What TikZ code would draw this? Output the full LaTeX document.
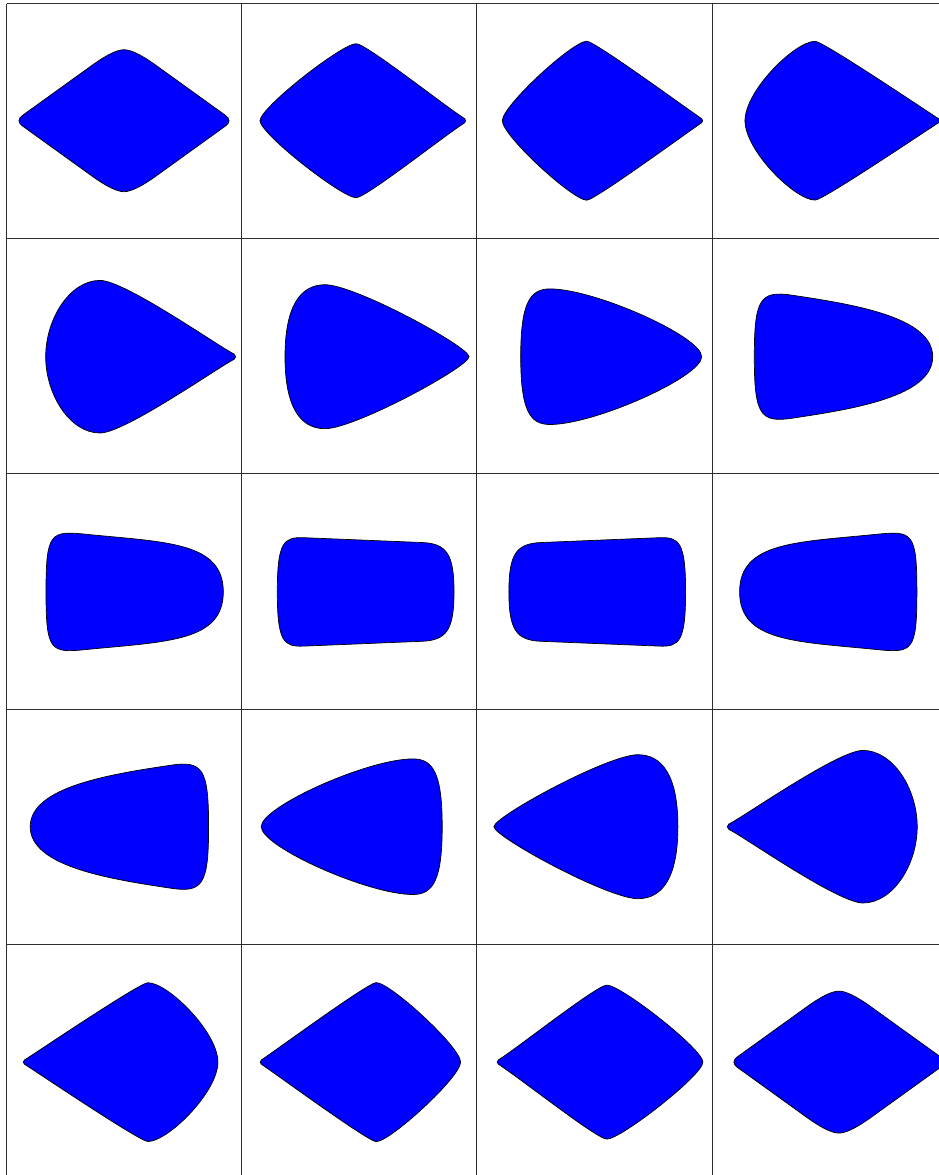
\documentclass[tikz,border=0pt]{standalone}
\definecolor{shapeblue}{RGB}{0,0,255}
\definecolor{gridgray}{RGB}{45,45,45}
\tikzset{
  blobfill/.style={fill=shapeblue},
  blobline/.style={draw=black, line width=0.7pt, line cap=round, line join=round},
  gridline/.style={draw=gridgray, line width=1.1pt},
}
% #1 x0, #2 centre y, #3 xscale, #4 xL, #5 xR, #6 rest of upper half path
\newcommand\blob[6]{%
  \begin{scope}[shift={(#1,#2)},xscale=#3]
    \begin{scope}[yscale=-1]
      \fill[blobfill] (#4,0) #6 -- ({#5-1.5},-0.9) -- ({#4+1.5},-0.9) -- cycle;
    \end{scope}
    \fill[blobfill] (#4,0) #6 -- ({#5-1.5},-0.9) -- ({#4+1.5},-0.9) -- cycle;
    \begin{scope}[yscale=-1]\draw[blobline] (#4,0) #6;\end{scope}
    \draw[blobline] (#4,0) #6;
  \end{scope}}
\newcommand\shpA{.. controls (12.5,2.4) and (14.1,3.9) .. (16,5.3) -- (85,55) .. controls (99.8,65.7) and (110.6,71) .. (117.5,71) .. controls (124.4,71) and (135.2,65.7) .. (150,55) -- (219,5.3) .. controls (220.9,3.9) and (222.5,2.4) .. (222.5,0)}
\newcommand\shpB{.. controls (18.3,13) and (100.3,77) .. (114.3,77) .. controls (124.3,77) and (199.4,17.36) .. (222.86,2.1) .. controls (223.57,1.64) and (224,0.85) .. (224,0)}
\newcommand\shpC{.. controls (25.4,15) and (95.8,79.5) .. (109.8,79.5) .. controls (117.8,79.5) and (208.1,13.25) .. (224.7,2.07) .. controls (225.39,1.61) and (225.8,0.83) .. (225.8,0)}
\newcommand\shpD{.. controls (32.9,30) and (82.9,79.4) .. (102.9,79.4) .. controls (110.9,79.4) and (209.5,12.9) .. (226.35,2.1) .. controls (227.06,1.64) and (227.5,0.85) .. (227.5,0)}
\newcommand\shpE{.. controls (39.2,38) and (63.5,76.3) .. (93.5,76.3) .. controls (118.5,76.3) and (213.9,9.07) .. (227.5,2.72) .. controls (228.56,2.23) and (229.2,1.17) .. (229.2,0)}
\newcommand\shpF{.. controls (43.3,50) and (58.3,72) .. (83.3,72) .. controls (113.3,72) and (227.3,10) .. (227.3,0)}
\newcommand\shpG{.. controls (43.8,54) and (53.1,67.8) .. (73.1,67.8) .. controls (118.1,67.8) and (224.8,20) .. (224.8,0)}
\newcommand\shpH{.. controls (42.2,58) and (48,66.3) .. (80,61.5) .. controls (140,52.5) and (220.6,40) .. (220.6,0)}
\newcommand\shpI{.. controls (39.5,60) and (44,61.2) .. (80,57.6) .. controls (160,49.6) and (216.8,50) .. (216.8,0)}
\newcommand\shpJ{.. controls (35.6,50) and (42,55.0) .. (62,54.2) .. controls (92,53.0) and (150,50.6) .. (180,49.4) .. controls (205,48.4) and (212.3,38) .. (212.3,0)}
\begin{document}
\begin{tikzpicture}[x=1pt,y=-1pt]
\useasboundingbox (0,0) rectangle (939,1175);
\fill[white] (0,0) rectangle (939,1175);
% grid
\foreach \gx in {6.5,241.7,476.9,712.1} \draw[gridline] (\gx,3.5) -- (\gx,1175);
\foreach \gy in {3.5,238.7,473.9,709.1,944.3} \draw[gridline] (6.5,\gy) -- (939,\gy);
% row 1
\blob{6.5}{120.7}{1}{12.5}{222.5}{\shpA}
\blob{241.7}{120.7}{1}{18.3}{224}{\shpB}
\blob{476.9}{120.7}{1}{25.4}{225.8}{\shpC}
\blob{712.1}{120.7}{1}{32.9}{227.5}{\shpD}
% row 2
\blob{6.5}{356.7}{1}{39.2}{229.2}{\shpE}
\blob{241.7}{356.7}{1}{43.3}{227.3}{\shpF}
\blob{476.9}{356.7}{1}{43.8}{224.8}{\shpG}
\blob{712.1}{356.7}{1}{42.2}{220.6}{\shpH}
% row 3
\blob{6.5}{591.9}{1}{39.5}{216.8}{\shpI}
\blob{241.7}{591.9}{1}{35.6}{212.3}{\shpJ}
\blob{721.2}{591.9}{-1}{35.6}{212.3}{\shpJ}
\blob{956.4}{591.9}{-1}{39.5}{216.8}{\shpI}
% row 4
\blob{250.8}{826.7}{-1}{42.2}{220.6}{\shpH}
\blob{486.0}{826.7}{-1}{43.8}{224.8}{\shpG}
\blob{721.2}{826.7}{-1}{43.3}{227.3}{\shpF}
\blob{956.4}{826.7}{-1}{39.2}{229.2}{\shpE}
% row 5
\blob{250.8}{1062.1}{-1}{32.9}{227.5}{\shpD}
\blob{486.0}{1062.1}{-1}{25.4}{225.8}{\shpC}
\blob{721.2}{1062.1}{-1}{18.3}{224}{\shpB}
\blob{956.4}{1062.1}{-1}{12.5}{222.5}{\shpA}
\end{tikzpicture}
\end{document}
